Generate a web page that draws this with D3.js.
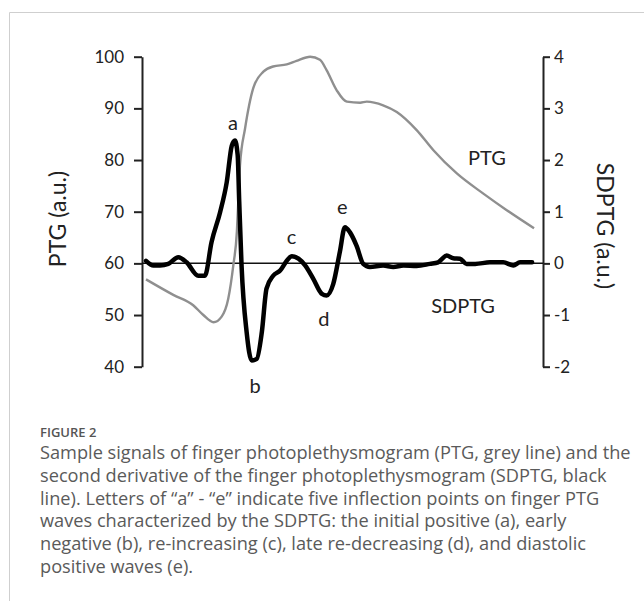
<!DOCTYPE html>
<html>
<head>
<meta charset="utf-8">
<script src="https://cdn.jsdelivr.net/npm/d3@7"></script>
<style>
  body { margin: 0; background: #fff; }
  svg { display: block; }
</style>
</head>
<body>
<div id="canvas"></div>
<script>
// PTG signal (left axis, a.u.)
var ptgTime = [0, 7.0, 12.1, 14.7, 17.3, 19.4, 21.1, 22.4, 23.3, 23.7, 24.1, 25.4, 27.5, 30.1, 32.6, 36.1,
  38.6, 42.1, 44.6, 46.3, 48.9, 51.5, 54.9, 56.6, 60.8, 64.3, 69.4, 73.7, 79.7, 86.5, 92.5, 99.5];
var ptgValues = [56.9, 53.9, 51.9, 50.0, 48.6, 49.7, 53.2, 59.7, 66.1, 72.6, 79.0, 86.1, 93.9, 97.1, 98.1, 98.5,
  99.2, 100, 99.4, 97.4, 93.5, 91.3, 91.1, 91.3, 90.6, 89.3, 85.8, 81.9, 77.4, 73.5, 70.3, 66.8];

// SDPTG signal (right axis, a.u.)
var sdTime = [0, 1.9, 3.6, 5.7, 8.3, 10.4, 13.4, 15.1, 16.8, 19.0, 20.7, 22.0, 22.8, 23.5, 23.9, 24.5, 25.8,
  27.1, 28.4, 29.7, 30.9, 32.6, 34.4, 36.1, 37.4, 39.1, 40.8, 42.9, 45.1, 46.3, 48.0, 49.7, 51.0, 52.3,
  54.0, 55.7, 57.4, 60.8, 63.4, 66.0, 69.4, 72.8, 74.9, 77.1, 78.8, 80.5, 82.2, 84.4, 88.2, 91.6, 94.2, 95.9, 99.0];
var sdValues = [0.05, -0.04, -0.04, -0.01, 0.12, 0.02, -0.24, -0.24, 0.41, 0.99, 1.57, 2.28, 2.38, 2.1, 1.2, -0.04, -1.33,
  -1.88, -1.85, -1.33, -0.49, -0.24, -0.14, 0.05, 0.14, 0.09, -0.04, -0.30, -0.59, -0.62, -0.40, 0.22, 0.70, 0.60,
  0.34, -0.01, -0.07, -0.04, -0.07, -0.04, -0.05, -0.01, 0.02, 0.15, 0.10, 0.09, -0.01, -0.01, 0.02, 0.02, -0.04, 0.02, 0.02];

var leftTicks = [40, 50, 60, 70, 80, 90, 100];
var rightTicks = [-2, -1, 0, 1, 2, 3, 4];

// wave letters: [time, sdptg value]
var waveLetters = ["a", "b", "c", "d", "e"];
var waveTime = [22.3, 28.0, 37.3, 45.6, 50.3];
var waveValue = [2.73, -2.35, 0.53, -1.05, 1.11];

var captionTitle = "FIGURE 2";
var captionLines = [
  "Sample signals of finger photoplethysmogram (PTG, grey line) and the",
  "second derivative of the finger photoplethysmogram (SDPTG, black",
  "line). Letters of \u201ca\u201d - \u201ce\u201d indicate five inflection points on finger PTG",
  "waves characterized by the SDPTG: the initial positive (a), early",
  "negative (b), re-increasing (c), late re-decreasing (d), and diastolic",
  "positive waves (e)."
];

var width = 644, height = 601;

var svg = d3.select("div#canvas").append("svg")
  .attr("width", width)
  .attr("height", height);

// frame
svg.append("line").attr("x1", 9.5).attr("x2", width).attr("y1", 12.5).attr("y2", 12.5)
  .attr("stroke", "#cfcfcf").attr("stroke-width", 1);
svg.append("line").attr("x1", 9.5).attr("x2", 9.5).attr("y1", 12.5).attr("y2", height)
  .attr("stroke", "#cfcfcf").attr("stroke-width", 1);

var x = d3.scaleLinear().domain([0, 100]).range([146, 536]);
var yL = d3.scaleLinear().domain([40, 100]).range([366.7, 56.7]);
var yR = d3.scaleLinear().domain([-2, 4]).range([366.7, 56.7]);

var tickFont = "Lato, 'Open Sans', sans-serif";

// left axis
var gL = svg.append("g").attr("transform", "translate(142,0)")
  .call(d3.axisLeft(yL).tickValues(leftTicks).tickSize(8).tickPadding(10).tickSizeOuter(0));
gL.select(".domain").attr("stroke", "#222").attr("stroke-width", 2);
gL.selectAll(".tick line").attr("stroke", "#222").attr("stroke-width", 2);
gL.selectAll(".tick text").attr("font-family", tickFont).attr("font-size", 17).attr("fill", "#222");

// right axis
var gR = svg.append("g").attr("transform", "translate(543,0)")
  .call(d3.axisRight(yR).tickValues(rightTicks).tickSize(7).tickPadding(4).tickSizeOuter(0)
    .tickFormat(function(d) { return d < 0 ? "-" + Math.abs(d) : d; }));
gR.select(".domain").attr("stroke", "#222").attr("stroke-width", 2);
gR.selectAll(".tick line").attr("stroke", "#222").attr("stroke-width", 2);
gR.selectAll(".tick text").attr("font-family", tickFont).attr("font-size", 17).attr("fill", "#222");

// axis titles
svg.append("text")
  .attr("transform", "translate(66,219) rotate(-90)")
  .attr("text-anchor", "middle")
  .attr("font-family", tickFont).attr("font-size", 23).attr("fill", "#222")
  .text("PTG (a.u.)");
svg.append("text")
  .attr("transform", "translate(597,226) rotate(90)")
  .attr("text-anchor", "middle")
  .attr("font-family", tickFont).attr("font-size", 23).attr("fill", "#222")
  .text("SDPTG (a.u.)");

// zero line of SDPTG
svg.append("line")
  .attr("x1", 142).attr("x2", 543)
  .attr("y1", yR(0)).attr("y2", yR(0))
  .attr("stroke", "#111").attr("stroke-width", 1.5);

// PTG line
var ptgData = ptgTime.map(function(t, i) { return [t, ptgValues[i]]; });
svg.append("path")
  .datum(ptgData)
  .attr("fill", "none")
  .attr("stroke", "#8f8f8f")
  .attr("stroke-width", 2.4)
  .attr("stroke-linejoin", "round")
  .attr("d", d3.line().curve(d3.curveMonotoneX)
    .x(function(d) { return x(d[0]); })
    .y(function(d) { return yL(d[1]); }));

// SDPTG line
var sdData = sdTime.map(function(t, i) { return [t, sdValues[i]]; });
svg.append("path")
  .datum(sdData)
  .attr("fill", "none")
  .attr("stroke", "#000")
  .attr("stroke-width", 4.5)
  .attr("stroke-linejoin", "round")
  .attr("stroke-linecap", "round")
  .attr("d", d3.line().curve(d3.curveMonotoneX)
    .x(function(d) { return x(d[0]); })
    .y(function(d) { return yR(d[1]); }));

// wave letters
svg.selectAll("text.wave")
  .data(waveLetters)
  .enter().append("text")
  .attr("class", "wave")
  .attr("x", function(d, i) { return x(waveTime[i]); })
  .attr("y", function(d, i) { return yR(waveValue[i]); })
  .attr("text-anchor", "middle")
  .attr("dominant-baseline", "central")
  .attr("font-family", tickFont).attr("font-size", 20).attr("fill", "#222")
  .text(function(d) { return d; });

// series labels
svg.append("text").attr("x", x(87.4)).attr("y", yR(2.05))
  .attr("text-anchor", "middle").attr("dominant-baseline", "central")
  .attr("font-family", tickFont).attr("font-size", 20).attr("fill", "#222")
  .text("PTG");
svg.append("text").attr("x", x(81.3)).attr("y", yR(-0.8))
  .attr("text-anchor", "middle").attr("dominant-baseline", "central")
  .attr("font-family", tickFont).attr("font-size", 20).attr("fill", "#222")
  .text("SDPTG");

// caption
var capFont = "'Open Sans', 'Noto Sans', sans-serif";
svg.append("text")
  .attr("x", 40).attr("y", 437)
  .attr("font-family", capFont).attr("font-size", 13).attr("font-weight", 600).attr("fill", "#555")
  .text(captionTitle);

svg.selectAll("text.cap")
  .data(captionLines)
  .enter().append("text")
  .attr("class", "cap")
  .attr("x", 40)
  .attr("y", function(d, i) { return 459 + i * 22.8; })
  .attr("font-family", capFont).attr("font-size", 18.2).attr("fill", "#5a5a5a")
  .text(function(d) { return d; });
</script>
</body>
</html>
